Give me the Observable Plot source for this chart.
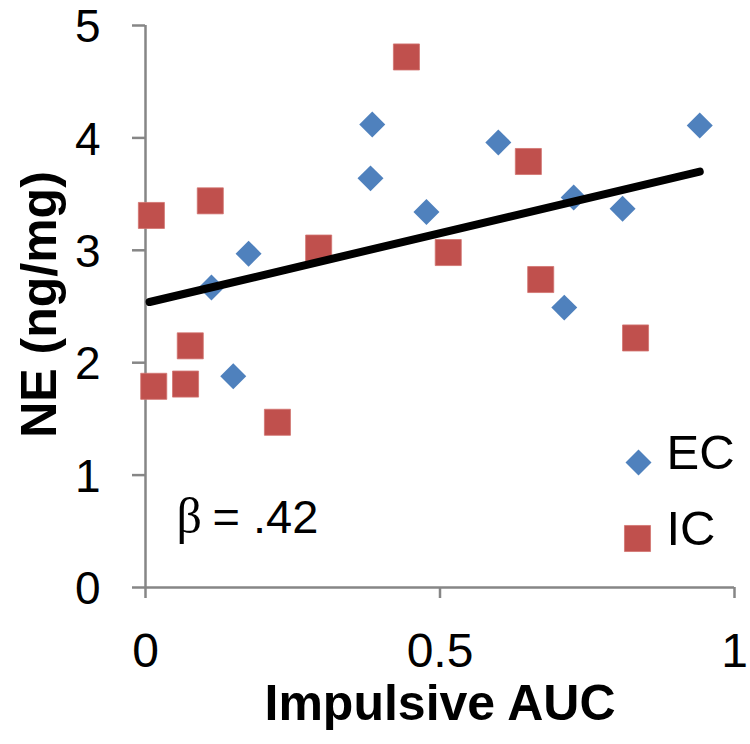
<!DOCTYPE html>
<html>
<head>
<meta charset="utf-8">
<script src="https://cdn.jsdelivr.net/npm/d3@7"></script>
<script src="https://cdn.jsdelivr.net/npm/@observablehq/plot@0.6"></script>
<style>
  html, body { margin: 0; padding: 0; background: #fff; }
  svg { font-family: "Liberation Sans", Arial, sans-serif; display: block; }
</style>
</head>
<body>
<div id="chart"></div>
<script>
// EC series (blue diamonds)
const ecX = [0.112, 0.175, 0.149, 0.382, 0.385, 0.477, 0.599, 0.727, 0.810, 0.711, 0.941];
const ecY = [2.67, 2.97, 1.88, 3.64, 4.12, 3.34, 3.96, 3.47, 3.37, 2.49, 4.11];
// IC series (red squares)
const icX = [0.010, 0.110, 0.443, 0.294, 0.514, 0.650, 0.671, 0.832, 0.076, 0.014, 0.068, 0.224];
const icY = [3.31, 3.44, 4.72, 3.02, 2.98, 3.79, 2.74, 2.22, 2.15, 1.79, 1.81, 1.47];
// Fit line endpoints
const fitX = [0.007, 0.941];
const fitY = [2.54, 3.70];
// Ticks
const xTicks = [0, 0.5, 1];
const yTicks = [0, 1, 2, 3, 4, 5];
const xTickLabels = ["0", "0.5", "1"];
const series = ["EC", "IC"];
const colors = ["#4F81BD", "#C0504D"];
const betaSymbol = "β";
const betaValue = "= .42";

const ec = ecX.map((x, i) => ({x, y: ecY[i]}));
const ic = icX.map((x, i) => ({x, y: icY[i]}));
const fit = fitX.map((x, i) => ({x, y: fitY[i]}));

const axisGray = "#868686";

const chart = Plot.plot({
  width: 750,
  height: 744,
  marginLeft: 145,
  marginRight: 16,
  marginTop: 25,
  marginBottom: 157,
  style: {fontFamily: "'Liberation Sans', Arial, sans-serif", background: "#fff", overflow: "visible"},
  x: {domain: [0, 1]},
  y: {domain: [0, 5]},
  marks: [
    Plot.ruleX([0], {stroke: axisGray, strokeWidth: 2.5}),
    Plot.ruleY([0], {stroke: axisGray, strokeWidth: 2.5}),
    Plot.axisY({ticks: yTicks, tickSize: 13, strokeWidth: 2.5, stroke: axisGray, text: null, label: null}),
    Plot.axisY({ticks: yTicks, tickSize: 0, tickPadding: 45, dy: 2, fontSize: 46, fill: "black", label: null, tickFormat: d => String(d)}),
    Plot.axisX({ticks: xTicks, tickSize: 11, tickPadding: 34, fontSize: 48, stroke: axisGray, strokeWidth: 2.5, fill: "black", label: null, tickFormat: d => xTickLabels[xTicks.indexOf(d)]}),
    Plot.dot(ec, {x: "x", y: "y", symbol: "diamond2", r: 11.7, fill: colors[0], stroke: null}),
    Plot.dot(ic, {x: "x", y: "y", symbol: "square", r: 14.7, fill: colors[1], stroke: "#d27370", strokeWidth: 0.8}),
    Plot.line(fit, {x: "x", y: "y", stroke: "black", strokeWidth: 8, strokeLinecap: "round"}),
    // legend
    Plot.dot([series[0]], {frameAnchor: "bottom-right", dx: -96, dy: -125, symbol: "diamond2", r: 11.7, fill: colors[0]}),
    Plot.dot([series[1]], {frameAnchor: "bottom-right", dx: -97, dy: -49, symbol: "square", r: 14.7, fill: colors[1], stroke: "#d27370", strokeWidth: 0.8}),
    Plot.text([series[0]], {text: d => d, frameAnchor: "bottom-right", dx: -68, dy: -119, textAnchor: "start", fontSize: 49, fill: "black"}),
    Plot.text([series[1]], {text: d => d, frameAnchor: "bottom-right", dx: -68, dy: -43, textAnchor: "start", fontSize: 49, fill: "black"}),
    // annotation
    Plot.text([betaSymbol], {text: d => d, frameAnchor: "bottom-left", dx: 31, dy: -55, textAnchor: "start", fontSize: 50, fontFamily: "'Liberation Serif', serif", fill: "black"}),
    Plot.text([betaValue], {text: d => d, frameAnchor: "bottom-left", dx: 67, dy: -55, textAnchor: "start", fontSize: 47, fill: "black"}),
    // axis titles
    Plot.text(["Impulsive AUC"], {text: d => d, frameAnchor: "bottom", dy: 132, textAnchor: "middle", fontSize: 50, fontWeight: "bold", fill: "black"}),
    Plot.text(["NE (ng/mg)"], {text: d => d, frameAnchor: "left", dx: -106, dy: -2, rotate: -90, textAnchor: "middle", fontSize: 50, fontWeight: "bold", fill: "black"})
  ]
});
document.getElementById("chart").appendChild(chart);
</script>
</body>
</html>
